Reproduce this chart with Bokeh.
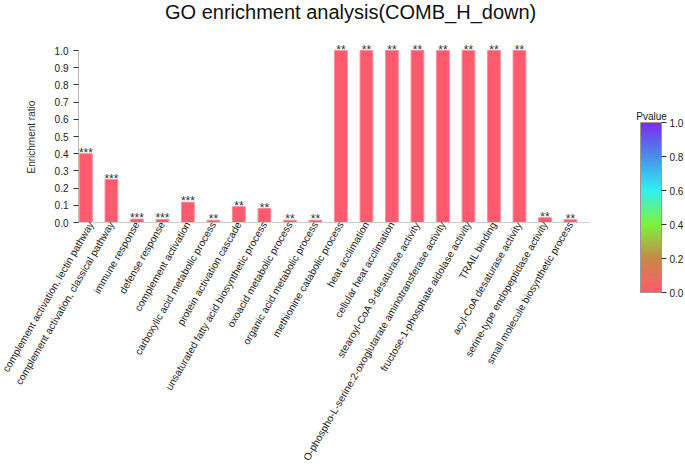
from math import pi
from bokeh.plotting import figure
from bokeh.models import (ColumnDataSource, FixedTicker, PrintfTickFormatter,
                          LinearColorMapper, ColorBar, Label, Range1d, Title)
from bokeh.embed import file_html
from bokeh.resources import INLINE

# ---------------- data ----------------
categories = [
    "complement activation, lectin pathway",
    "complement activation, classical pathway",
    "immune response",
    "defense response",
    "complement activation",
    "carboxylic acid metabolic process",
    "protein activation cascade",
    "unsaturated fatty acid biosynthetic process",
    "oxoacid metabolic process",
    "organic acid metabolic process",
    "methionine catabolic process",
    "heat acclimation",
    "cellular heat acclimation",
    "stearoyl-CoA 9-desaturase activity",
    "O-phospho-L-serine:2-oxoglutarate aminotransferase activity",
    "fructose-1-phosphate aldolase activity",
    "TRAIL binding",
    "acyl-CoA desaturase activity",
    "serine-type endopeptidase activity",
    "small molecule biosynthetic process",
]
enrichment_ratio = [0.40, 0.25, 0.020, 0.018, 0.118, 0.013, 0.092, 0.081, 0.013, 0.013,
                    1.0, 1.0, 1.0, 1.0, 1.0, 1.0, 1.0, 1.0, 0.028, 0.016]
significance = ["***", "***", "***", "***", "***", "**", "**", "**", "**", "**",
                "**", "**", "**", "**", "**", "**", "**", "**", "**", "**"]
y_ticks = [0.0, 0.1, 0.2, 0.3, 0.4, 0.5, 0.6, 0.7, 0.8, 0.9, 1.0]
pvalue_ticks = [0.0, 0.2, 0.4, 0.6, 0.8, 1.0]
title_text = "GO enrichment analysis(COMB_H_down)"
y_label = "Enrichment ratio"
colorbar_title = "Pvalue"

# ---------------- style ----------------
FONT = "Liberation Sans"
BAR_COLOR = "#ff5a6e"

def gradient(stops, n=256):
    out = []
    for i in range(n):
        t = i / (n - 1)
        for (t0, c0), (t1, c1) in zip(stops[:-1], stops[1:]):
            if t0 <= t <= t1:
                f = (t - t0) / (t1 - t0)
                rgb = [round(a + (b - a) * f) for a, b in zip(c0, c1)]
                out.append("#%02x%02x%02x" % tuple(rgb))
                break
    return out

stops = [(0.0, (255, 90, 110)), (0.2, (197, 138, 74)), (0.4, (127, 242, 58)),
         (0.6, (46, 242, 242)), (0.8, (74, 142, 232)), (1.0, (123, 43, 242))]
palette = gradient(stops)

positions = list(range(len(categories)))
source = ColumnDataSource(dict(x=positions, ratio=enrichment_ratio, stars=significance))

p = figure(width=685, height=468, output_backend="svg", toolbar_location=None,
           x_range=Range1d(-0.29, 23.51), y_range=Range1d(0, 1.2907),
           min_border_left=78, min_border_right=0, min_border_top=0, min_border_bottom=246)
p.outline_line_color = None
p.xgrid.visible = False
p.ygrid.visible = False
p.background_fill_color = "white"

p.vbar(x="x", top="ratio", width=0.5, source=source, fill_color=BAR_COLOR,
       line_color="#ff8c99", line_width=1)

# significance marks above bars
p.text(x="x", y="ratio", text="stars", source=source, text_align="center",
       text_baseline="alphabetic", y_offset=-1, text_font_size="12px",
       text_color="#333333", text_font={"value": FONT})

# chart title (inside the top of the frame)
p.add_layout(Label(x=10.38, y=1.2215, text=title_text, text_align="center",
                   text_baseline="alphabetic", text_font=FONT, text_font_size="20px",
                   text_color="#111111"))

# y axis
ya = p.yaxis[0]
ya.ticker = FixedTicker(ticks=y_ticks)
ya.formatter = PrintfTickFormatter(format="%.1f")
ya.bounds = (0, 1)
ya.major_label_text_font = FONT
ya.major_label_text_font_size = "10px"
ya.major_label_text_color = "#222222"
ya.major_tick_out = 5
ya.major_tick_in = 0
ya.minor_tick_line_color = None
ya.major_tick_line_color = "#333333"
ya.axis_line_color = "#bbbbbb"

# y axis title, placed beside the 0..1 part of the axis
p.add_layout(Title(text=y_label, align="left", offset=49, standoff=30,
                   text_font=FONT, text_font_size="10px", text_font_style="normal",
                   text_color="#333333"), "left")

# x axis with rotated category labels
xa = p.xaxis[0]
xa.ticker = FixedTicker(ticks=positions)
xa.major_label_overrides = {i: c for i, c in zip(positions, categories)}
xa.major_label_orientation = pi / 3
xa.bounds = (-0.29, 19.73)
xa.major_tick_line_color = None
xa.major_tick_out = 0
xa.major_tick_in = 0
xa.minor_tick_line_color = None
xa.major_label_standoff = 0
xa.axis_line_color = "#cccccc"
xa.major_label_text_font = FONT
xa.major_label_text_font_size = "10.2px"
xa.major_label_text_color = "#222222"

# colour bar
mapper = LinearColorMapper(palette=palette, low=0, high=1)
cb = ColorBar(color_mapper=mapper, ticker=FixedTicker(ticks=pvalue_ticks),
              formatter=PrintfTickFormatter(format="%.1f"),
              width=21, height=170, location=(562, -70),
              major_label_text_font=FONT, major_label_text_font_size="10px",
              major_label_text_color="#222222",
              major_tick_out=5, major_tick_in=0, major_tick_line_color="#333333",
              bar_line_color="#999999", border_line_color=None,
              background_fill_alpha=0, padding=0, margin=0, label_standoff=3)
p.add_layout(cb, "center")

p.add_layout(Label(x=22.18, y=0.616, text=colorbar_title, text_align="center",
                   text_baseline="alphabetic", text_font=FONT, text_font_size="10px",
                   text_color="#222222"))

open("out.html", "w").write(file_html(p, INLINE))
